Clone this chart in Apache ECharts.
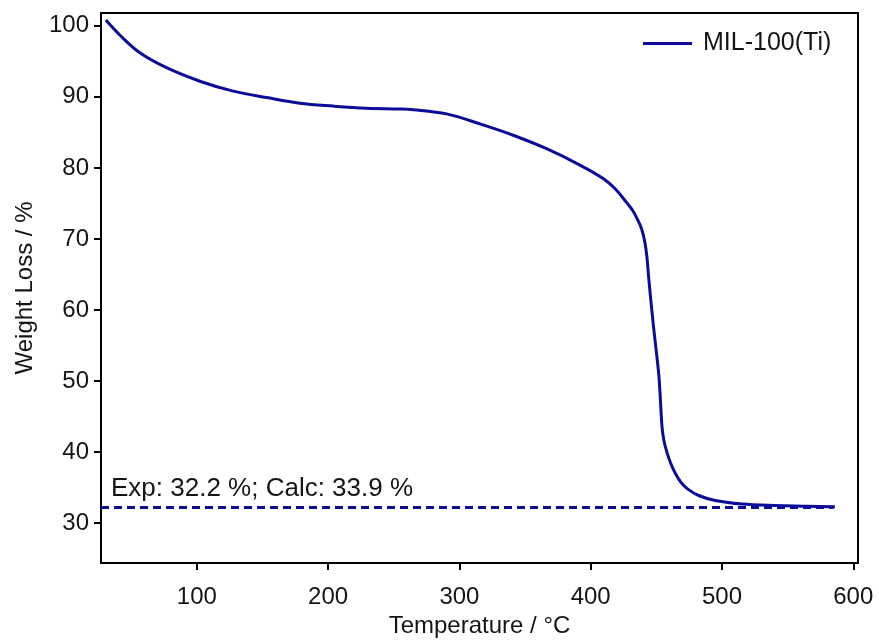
<!DOCTYPE html>
<html>
<head>
<meta charset="utf-8">
<script src="https://cdn.jsdelivr.net/npm/echarts@6/dist/echarts.min.js"></script>
<style>
  html, body { margin: 0; padding: 0; background: #fff; }
  #chart { width: 879px; height: 643px; }
</style>
</head>
<body>
<div id="chart"></div>
<script>
// TGA trace of MIL-100(Ti): temperature (°C) vs remaining weight (%)
const temperature = [30.7, 41.3, 56.6, 76.9, 102.3, 127.7, 153.1, 178.5, 203.8, 229.3,
  254.7, 264.8, 290.2, 315.6, 341.0, 366.4, 391.8, 409.5, 419.0, 427.0,
  432.0, 435.5, 438.8, 441.2, 442.8, 444.2, 446.0, 448.0, 450.2, 452.0,
  453.2, 454.4, 455.8, 458.0, 461.0, 464.5, 469.0, 474.0, 482.2, 494.9,
  515.3, 540.6, 566.0, 586.0];
const weight = [100.8, 98.7, 96.2, 94.1, 92.2, 90.8, 89.9, 89.1, 88.7, 88.4,
  88.3, 88.2, 87.6, 86.2, 84.6, 82.7, 80.4, 78.5, 77.0, 75.2,
  74.0, 72.8, 71.4, 69.6, 67.5, 64.5, 61.0, 57.4, 53.8, 50.6,
  47.0, 43.4, 41.6, 40.0, 38.4, 37.0, 35.7, 34.8, 33.9, 33.2,
  32.7, 32.5, 32.4, 32.3];

// Experimental residual mass (dashed reference line)
const residualExp = 32.2;
const residualCalc = 33.9;
const residualSpan = [27, 585];

const xTicks = [100, 200, 300, 400, 500, 600];
const yTicks = [30, 40, 50, 60, 70, 80, 90, 100];

const seriesName = 'MIL-100(Ti)';
const navy = '#0c0c98';
const ink = '#151515';
const font = 'Liberation Sans, Arial, Helvetica, sans-serif';

const chart = echarts.init(document.getElementById('chart'), null, { renderer: 'canvas' });

const option = {
  backgroundColor: '#fff',
  animation: false,
  grid: {
    left: 101, right: 21, top: 13, bottom: 75,
    show: true, borderColor: '#000', borderWidth: 2, backgroundColor: 'transparent'
  },
  legend: {
    data: [{ name: seriesName, icon: 'rect' }],
    left: 643, top: 31,
    padding: 0,
    itemWidth: 49, itemHeight: 3,
    itemStyle: { color: navy },
    textStyle: { fontFamily: font, fontSize: 25, color: ink, padding: [0, 0, 0, 6] }
  },
  xAxis: {
    type: 'value',
    min: 27, max: 603.6,
    name: 'Temperature / °C',
    nameLocation: 'middle',
    nameGap: 51,
    nameTextStyle: { fontFamily: font, fontSize: 24, color: ink },
    axisLine: { lineStyle: { color: '#000', width: 2 } },
    axisTick: { show: true, length: 7, lineStyle: { color: '#000', width: 2 }, customValues: xTicks },
    axisLabel: { fontFamily: font, fontSize: 24, color: ink, margin: 22, customValues: xTicks },
    splitLine: { show: false }
  },
  yAxis: {
    type: 'value',
    min: 24.4, max: 101.8,
    name: 'Weight Loss / %',
    nameLocation: 'middle',
    nameGap: 64,
    nameTextStyle: { fontFamily: font, fontSize: 24, color: ink },
    axisLine: { lineStyle: { color: '#000', width: 2 } },
    axisTick: { show: true, length: 7, lineStyle: { color: '#000', width: 2 }, customValues: yTicks },
    axisLabel: { fontFamily: font, fontSize: 24, color: ink, margin: 12, customValues: yTicks },
    splitLine: { show: false }
  },
  series: [
    {
      name: 'residual',
      type: 'line',
      data: residualSpan.map(t => [t, residualExp]),
      symbol: 'none',
      lineStyle: { color: navy, width: 3, type: [8, 5] },
      silent: true,
      z: 1
    },
    {
      name: seriesName,
      type: 'line',
      data: temperature.map((t, i) => [t, weight[i]]),
      symbol: 'none',
      smooth: 0.35,
      lineStyle: { color: navy, width: 3 },
      itemStyle: { color: navy },
      z: 2
    }
  ],
  graphic: [
    {
      type: 'text',
      left: 111, top: 476,
      style: {
        text: 'Exp: ' + residualExp.toFixed(1) + ' %; Calc: ' + residualCalc.toFixed(1) + ' %',
        fontFamily: font, fontSize: 26, fill: ink
      }
    }
  ]
};

chart.setOption(option);
</script>
</body>
</html>
